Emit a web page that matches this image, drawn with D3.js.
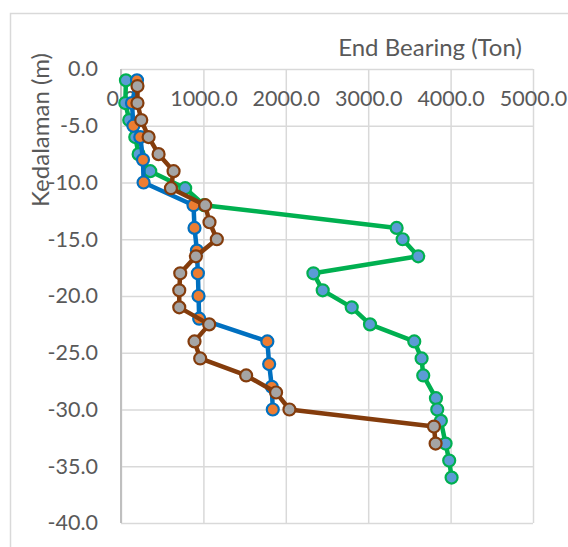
<!DOCTYPE html>
<html>
<head>
<meta charset="utf-8">
<script src="https://cdn.jsdelivr.net/npm/d3@7"></script>
<style>
  body { margin: 0; background: #fff; }
  text { font-family: Lato, "Open Sans", sans-serif; fill: #595959; }
</style>
</head>
<body>
<div id="chart"></div>
<script>
// depth (m, negative downward) and end bearing (ton) for each curve
const depthGreen = [-1, -3, -4.5, -6, -7.5, -9, -10.5, -12, -14, -15, -16.5, -18, -19.5, -21, -22.5, -24, -25.5, -27, -29, -30, -31, -33, -34.5, -36];
const bearingGreen = [60, 52, 100, 173, 214, 355, 779, 1010, 3345, 3418, 3607, 2335, 2448, 2800, 3022, 3559, 3648, 3668, 3822, 3838, 3882, 3939, 3983, 4012];

const depthBlue = [-1, -3, -5, -6, -8, -10, -12, -14, -16, -18, -20, -22, -24, -26, -28, -30];
const bearingBlue = [194, 133, 150, 234, 267, 274, 880, 892, 921, 933, 941, 949, 1776, 1798, 1830, 1842];

const depthBrown = [-1.5, -3, -4.5, -6, -7.5, -9, -10.5, -12, -13.5, -15, -16.5, -18, -19.5, -21, -22.5, -24, -25.5, -27, -28.5, -30, -31.5, -33];
const bearingBrown = [200, 200, 246, 335, 456, 638, 606, 1022, 1074, 1163, 909, 719, 707, 707, 1070, 892, 961, 1519, 1882, 2044, 3798, 3818];

const xTicks = [0, 1000, 2000, 3000, 4000, 5000];
const yTicks = [0, -5, -10, -15, -20, -25, -30, -35, -40];

const series = [
    { depth: depthGreen, value: bearingGreen, line: '#00B050', fill: '#5B9BD5' },
    { depth: depthBlue, value: bearingBlue, line: '#0070C0', fill: '#ED7D31' },
    { depth: depthBrown, value: bearingBrown, line: '#843C0C', fill: '#A5A5A5' }
];

const W = 568, H = 547;
const plot = { left: 121, right: 533, top: 69, bottom: 523 };

const svg = d3.select('#chart')
    .append('svg')
    .attr('width', W)
    .attr('height', H);

// chart frame (only left and top edges are visible in the crop)
svg.append('rect')
    .attr('x', 10.5)
    .attr('y', 13.5)
    .attr('width', W + 20)
    .attr('height', H + 20)
    .attr('fill', '#fff')
    .attr('stroke', '#d9d9d9')
    .attr('stroke-width', 1.5);

const x = d3.scaleLinear().domain([0, 5000]).range([plot.left, plot.right]);
const y = d3.scaleLinear().domain([-40, 0]).range([plot.bottom, plot.top]);

const loc = d3.formatLocale({ decimal: '.', thousands: ',', grouping: [3], currency: ['', ''], minus: '-' });
const fmt = loc.format('.1f');

// gridlines
svg.append('g')
    .attr('transform', `translate(0 ${plot.top})`)
    .call(d3.axisBottom(x).tickValues(xTicks).tickSize(plot.bottom - plot.top).tickFormat(''))
    .call(g => g.select('.domain').remove())
    .call(g => g.selectAll('line').attr('stroke', '#d9d9d9').attr('stroke-width', 1.5));

svg.append('g')
    .attr('transform', `translate(${plot.left} 0)`)
    .call(d3.axisRight(y).tickValues(yTicks).tickSize(plot.right - plot.left).tickFormat(''))
    .call(g => g.select('.domain').remove())
    .call(g => g.selectAll('line').attr('stroke', '#d9d9d9').attr('stroke-width', 1.5));

// vertical axis line
svg.append('line')
    .attr('x1', plot.left).attr('x2', plot.left)
    .attr('y1', plot.top).attr('y2', plot.bottom)
    .attr('stroke', '#bfbfbf')
    .attr('stroke-width', 2);

// tick labels
svg.append('g')
    .attr('transform', `translate(0 ${y(0)})`)
    .call(d3.axisBottom(x).tickValues(xTicks).tickSize(0).tickPadding(22).tickFormat(fmt))
    .call(g => g.select('.domain').remove())
    .call(g => g.selectAll('text').attr('font-size', 21.5).attr('font-family', null).attr('fill', '#595959'));

svg.append('g')
    .attr('transform', `translate(${plot.left} 0)`)
    .call(d3.axisLeft(y).tickValues(yTicks).tickSize(0).tickPadding(23).tickFormat(fmt))
    .call(g => g.select('.domain').remove())
    .call(g => g.selectAll('text').attr('font-size', 21.5).attr('font-family', null).attr('fill', '#595959'));

// titles
svg.append('text')
    .attr('x', 430)
    .attr('y', 56)
    .attr('text-anchor', 'middle')
    .attr('font-size', 24)
    .text('End Bearing (Ton)');

svg.append('text')
    .attr('transform', 'translate(49 130) rotate(-90)')
    .attr('text-anchor', 'middle')
    .attr('font-size', 24)
    .text('Kedalaman (m)');

// series
const line = d3.line().x(d => x(d[1])).y(d => y(d[0]));

series.forEach(s => {
    const pts = s.depth.map((d, i) => [d, s.value[i]]);
    const g = svg.append('g');
    g.append('path')
        .attr('d', line(pts))
        .attr('fill', 'none')
        .attr('stroke', s.line)
        .attr('stroke-width', 4.5)
        .attr('stroke-linejoin', 'round');
    g.selectAll('circle')
        .data(pts)
        .enter()
        .append('circle')
        .attr('cx', d => x(d[1]))
        .attr('cy', d => y(d[0]))
        .attr('r', 6)
        .attr('fill', s.fill)
        .attr('stroke', s.line)
        .attr('stroke-width', 2.2);
});
</script>
</body>
</html>
